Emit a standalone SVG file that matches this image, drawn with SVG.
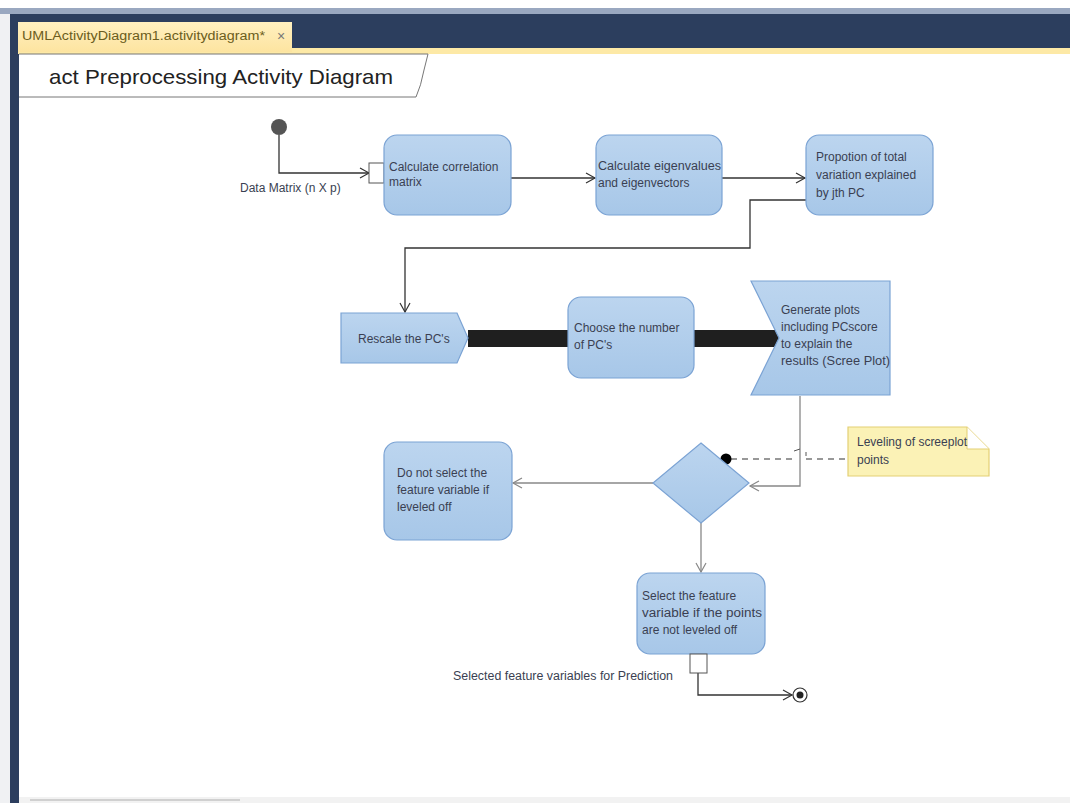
<svg xmlns="http://www.w3.org/2000/svg" width="1070" height="803" viewBox="0 0 1070 803">
<style>
.t{font-family:"Liberation Sans",Arial,sans-serif;font-size:12px;fill:#3a3f52;}
.node{fill:url(#g);stroke:#7ba3d4;stroke-width:1.2;}
.c{fill:none;stroke:#333;stroke-width:1.3;}
.cg{fill:none;stroke:#888;stroke-width:1.3;}
.bar{fill:#1f1f1f;}
</style>
<defs>
<linearGradient id="g" x1="0" y1="0" x2="0" y2="1">
<stop offset="0" stop-color="#bcd5ef"/>
<stop offset="1" stop-color="#a7c7e8"/>
</linearGradient>
<linearGradient id="tab" x1="0" y1="0" x2="0" y2="1">
<stop offset="0" stop-color="#fff0c0"/>
<stop offset="1" stop-color="#fde4a0"/>
</linearGradient>
<marker id="a" markerWidth="12" markerHeight="12" refX="10" refY="6" orient="auto" markerUnits="userSpaceOnUse">
<path d="M1,1 L10,6 L1,11" fill="none" stroke="#333" stroke-width="1.2"/>
</marker>
<marker id="ag" markerWidth="12" markerHeight="12" refX="10" refY="6" orient="auto" markerUnits="userSpaceOnUse">
<path d="M1,1 L10,6 L1,11" fill="none" stroke="#888" stroke-width="1.2"/>
</marker>
</defs>

<g id="frame">
<rect x="0" y="0" width="1070" height="803" fill="#ffffff"/>
<rect x="0" y="8" width="1070" height="7" fill="#9aa8c0"/>
<rect x="0" y="14" width="1070" height="34" fill="#2c3e5e"/>
<rect x="0" y="14" width="10" height="789" fill="#f0f1f3"/>
<rect x="10" y="14" width="9" height="789" fill="#2c3e5e"/>
<rect x="18" y="48" width="1052" height="6" fill="#fde9a6"/>
<rect x="18" y="22" width="274" height="30" fill="url(#tab)"/>
<text x="22" y="40" font-family="Liberation Sans,Arial,sans-serif" font-size="12" fill="#6b5d20" textLength="243" lengthAdjust="spacingAndGlyphs">UMLActivityDiagram1.activitydiagram*</text>
<text x="277" y="41" font-family="Liberation Sans,Arial,sans-serif" font-size="14" fill="#777">×</text>
<rect x="19" y="797" width="1051" height="6" fill="#f2f2f2"/>
<line x1="30" y1="800" x2="240" y2="800" stroke="#d0d0d0" stroke-width="2"/>
</g>

<g id="header">
<path d="M19,54 L428,54 Q426,62 424,70 Q421,86 416,97 L19,97" fill="#ffffff" stroke="#777" stroke-width="1"/>
<text x="49" y="84" font-family="Liberation Sans,Arial,sans-serif" font-size="21" fill="#222" textLength="344" lengthAdjust="spacingAndGlyphs">act Preprocessing Activity Diagram</text>
</g>

<g id="connectors">
<path class="c" d="M279,135 L279,173 L369,173" marker-end="url(#a)"/>
<path class="c" d="M511,178 L595,178" marker-end="url(#a)"/>
<path class="c" d="M722,178 L805,178" marker-end="url(#a)"/>
<path class="c" d="M806,200 L750,200 L750,248 L405,248 L405,312" marker-end="url(#a)"/>
<rect class="bar" x="468" y="330" width="100" height="17"/>
<rect class="bar" x="694" y="330" width="85" height="17"/>
<path class="cg" d="M800,396 L800,486 L750,486" marker-end="url(#ag)"/>
<path class="cg" d="M653,483 L513,483" marker-end="url(#ag)"/>
<path class="cg" d="M701,523 L701,572" marker-end="url(#ag)"/>
<path class="c" d="M698,673 L698,695 L792,695" marker-end="url(#a)"/>
<path d="M731,459 L795,459 M806,459 L848,459" fill="none" stroke="#333" stroke-width="1.2" stroke-dasharray="6,5"/>
<path d="M794,451 L800,449 M806,452 L806,456" fill="none" stroke="#555" stroke-width="1"/>
<circle cx="726" cy="459" r="5.5" fill="#000"/>
</g>

<g id="initial">
<circle cx="279" cy="127" r="8" fill="#555"/>
</g>

<g id="pin-in">
<rect x="369" y="163" width="15" height="20" fill="#fff" stroke="#555" stroke-width="1"/>
<text class="t" x="240" y="192" font-size="11">Data Matrix (n X p)</text>
</g>

<g id="n-corr">
<rect class="node" x="384" y="135" width="127" height="80" rx="13"/>
<text class="t" x="389" y="171">Calculate correlation</text>
<text class="t" x="389" y="186">matrix</text>
</g>

<g id="n-eig">
<rect class="node" x="596" y="135" width="126" height="80" rx="13"/>
<text class="t" x="598" y="170" textLength="123" lengthAdjust="spacingAndGlyphs">Calculate eigenvalues</text>
<text class="t" x="598" y="187">and eigenvectors</text>
</g>

<g id="n-prop">
<rect class="node" x="806" y="135" width="127" height="80" rx="13"/>
<text class="t" x="816" y="161">Propotion of total</text>
<text class="t" x="816" y="179">variation explained</text>
<text class="t" x="816" y="197">by jth PC</text>
</g>

<g id="n-rescale">
<path class="node" d="M341,313 L457,313 L468,338 L457,363 L341,363 Z"/>
<text class="t" x="358" y="343">Rescale the PC's</text>
</g>

<g id="n-choose">
<rect class="node" x="568" y="297" width="126" height="81" rx="13"/>
<text class="t" x="574" y="332">Choose the number</text>
<text class="t" x="574" y="349">of PC's</text>
</g>

<g id="n-generate">
<path class="node" d="M751,281 L890,281 L890,395 L751,395 L779,338 Z"/>
<text class="t" x="781" y="314">Generate plots</text>
<text class="t" x="781" y="331">including PCscore</text>
<text class="t" x="781" y="348">to explain the</text>
<text class="t" x="781" y="365" textLength="109" lengthAdjust="spacingAndGlyphs">results (Scree Plot)</text>
</g>

<g id="decision">
<path class="node" d="M701,443 L749,483 L701,523 L653,483 Z"/>
</g>

<g id="note">
<path d="M848,427 L967,427 L989,449 L989,476 L848,476 Z" fill="#fbf2b6" stroke="#e3cf74" stroke-width="1.2"/>
<path d="M967,427 L967,449 L989,449" fill="#ffffff" stroke="#e3cf74" stroke-width="1"/>
<text class="t" x="857" y="446">Leveling of screeplot</text>
<text class="t" x="857" y="464">points</text>
</g>

<g id="n-donot">
<rect class="node" x="384" y="442" width="128" height="98" rx="13"/>
<text class="t" x="397" y="477">Do not select the</text>
<text class="t" x="397" y="494">feature variable if</text>
<text class="t" x="397" y="511">leveled off</text>
</g>

<g id="n-select">
<rect class="node" x="637" y="573" width="128" height="81" rx="13"/>
<text class="t" x="642" y="600">Select the feature</text>
<text class="t" x="642" y="617" textLength="120" lengthAdjust="spacingAndGlyphs">variable if the points</text>
<text class="t" x="642" y="634">are not leveled off</text>
</g>

<g id="pin-out">
<rect x="690" y="654" width="17" height="19" fill="#fff" stroke="#555" stroke-width="1"/>
<text class="t" x="453" y="680" textLength="220" lengthAdjust="spacingAndGlyphs">Selected feature variables for Prediction</text>
</g>

<g id="final">
<circle cx="800" cy="695" r="7" fill="#fff" stroke="#333" stroke-width="1.2"/>
<circle cx="800" cy="695" r="3.5" fill="#222"/>
</g>
</svg>
